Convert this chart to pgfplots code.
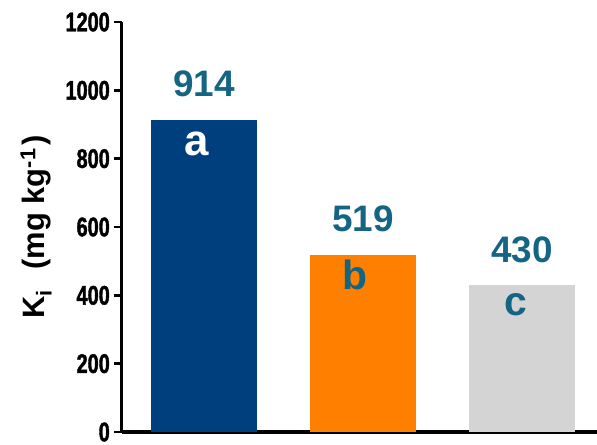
\documentclass[border=0pt]{standalone}
\usepackage{fontspec}
\setmainfont{Liberation Sans}
\newfontfamily\narrowsans[FakeStretch=0.74, FakeBold=1.5]{Liberation Sans Bold}
\usepackage{pgfplots}
\pgfplotsset{compat=1.18}

\definecolor{barblue}{RGB}{0,63,125}
\definecolor{barorange}{RGB}{255,128,0}
\definecolor{bargray}{RGB}{212,212,212}
\definecolor{valcol}{RGB}{20,101,132}

\begin{document}
\begin{tikzpicture}
\useasboundingbox (-122bp,-13bp) rectangle (475bp,432bp);
\begin{axis}[
  at={(0,0)}, anchor=south west,
  scale only axis, width=475bp, height=410bp,
  xmin=0.484, xmax=3.472, ymin=0, ymax=1200,
  axis x line*=bottom, axis y line*=left,
  axis line style={line width=3bp, black},
  xtick=\empty, ytick={0,200,...,1200},
  tick align=outside, major tick length=8bp,
  tick style={line width=2.5bp, black},
  /pgf/number format/assume math mode=true,
  /pgf/number format/1000 sep={},
  yticklabel style={font=\narrowsans\fontsize{27}{27}\selectfont, inner sep=0pt, xshift=-4bp},
  ylabel={K\textsubscript{i}\hspace{12bp} (mg kg\textsuperscript{-1}\hspace{3bp})},
  ylabel style={font=\bfseries\fontsize{31}{31}\selectfont, at={(axis description cs:-0.181,0.5)}, anchor=center},
  clip=false,
  nodes near coords,
  nodes near coords style={font=\bfseries\fontsize{37}{37}\selectfont, text=valcol, anchor=base, yshift=23bp, inner sep=0pt},
]
\addplot[ybar, bar width=0.667, bar shift=0pt, fill=barblue, draw=none] coordinates {(1,914)};
\addplot[ybar, bar width=0.667, bar shift=0pt, fill=barorange, draw=none] coordinates {(2,519)};
\addplot[ybar, bar width=0.667, bar shift=0pt, fill=bargray, draw=none] coordinates {(3,430)};

% significance letters inside the bars
\node[font=\bfseries\fontsize{44}{44}\selectfont, text=white, anchor=base, xshift=-7bp, yshift=-36bp, inner sep=0pt] at (axis cs:1,914) {a};
\node[font=\bfseries\fontsize{41}{41}\selectfont, text=valcol, anchor=base, xshift=-8bp, yshift=-35bp, inner sep=0pt] at (axis cs:2,519) {b};
\node[font=\bfseries\fontsize{41}{41}\selectfont, text=valcol, anchor=base, xshift=-6bp, yshift=-30bp, inner sep=0pt] at (axis cs:3,430) {c};
\end{axis}
\end{tikzpicture}
\end{document}
